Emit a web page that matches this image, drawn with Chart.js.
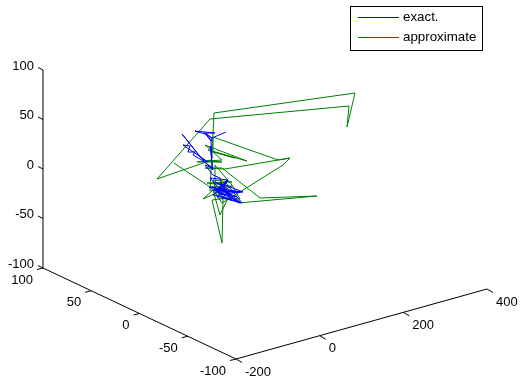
<!DOCTYPE html>
<html>
<head>
<meta charset="utf-8">
<title>exact vs approximate</title>
<script src="https://cdn.jsdelivr.net/npm/chart.js@4"></script>
<style>
  html, body { margin: 0; padding: 0; background: #fff; }
  canvas { display: block; }
</style>
</head>
<body>
<canvas id="chart" width="524" height="391"></canvas>
<script>
// tick values of the three axes
const xTicks = [-200, 0, 200, 400];
const yTicks = [-100, -50, 0, 50, 100];
const zTicks = [-100, -50, 0, 50, 100];

// the trajectories only exist as a flat projection in the picture,
// so they are read as view plane positions
const exactU = [226, 212, 208, 195, 215, 206, 211, 204, 212, 211, 212, 210, 213, 203, 182, 201, 208, 183, 190, 188, 195, 193, 200, 207, 213, 205, 213, 220, 222, 215, 225, 213, 240, 218, 238, 222, 228, 210, 225, 209, 242, 217, 240, 222, 232, 213, 227, 218, 237, 212, 230, 222, 242, 226, 215, 243, 220, 230, 224, 233];
const exactV = [132, 138, 135, 131, 133, 133, 141, 132, 139, 142, 158, 146, 170, 160, 134, 158, 162, 145, 146, 152, 152, 155, 159, 164, 168, 165, 175, 178, 185, 182, 188, 190, 192, 195, 202, 188, 180, 178, 195, 187, 192, 192, 202, 188, 200, 195, 180, 193, 197, 187, 192, 198, 203, 183, 190, 192, 183, 198, 186, 193];
const approxU = [174, 210, 232, 203, 213, 220, 228, 212, 222, 223, 220, 238, 317, 260, 222, 205, 225, 290, 283, 243, 222, 215, 215, 232, 240, 218, 213, 232, 207, 226, 210, 214, 355, 347, 349, 210, 157, 212, 197, 222, 208, 222, 205, 247, 208, 235, 213, 213, 278, 290];
const approxV = [163, 187, 186, 199, 190, 215, 198, 200, 243, 200, 187, 203, 196, 198, 168, 168, 169, 158, 165, 190, 203, 193, 165, 185, 199, 198, 180, 182, 183, 185, 191, 113, 93, 127, 106, 119, 179, 160, 162, 162, 161, 160, 145, 161, 150, 158, 152, 137, 160, 158];

const seriesNames = ['exact.', 'approximate'];
const BLUE = '#0000ff';
const GREEN = '#007f00';

// view of the 3d box
function project(x, y, z) {
  return {
    x: 236 + (x + 200) * 251 / 600 - (y + 100) * 193 / 200,
    y: 359 - (x + 200) * 70 / 600 - (y + 100) * 91 / 200 - (z + 100) * 198 / 200
  };
}

function zip(us, vs) {
  return us.map((u, i) => ({ x: u, y: vs[i] }));
}

function axisLine(points) {
  return {
    data: points,
    borderColor: '#000',
    borderWidth: 1,
    pointRadius: 0,
    showLine: true
  };
}

const axisSets = [
  axisLine([project(-200, -100, -100), project(400, -100, -100)]),
  axisLine([project(-200, -100, -100), project(-200, 100, -100)]),
  axisLine([project(-200, 100, -100), project(-200, 100, 100)])
];

// short tick marks, each one runs along a neighbouring axis direction
xTicks.forEach(t => {
  const p = project(t, -100, -100);
  axisSets.push(axisLine([p, { x: p.x + 6, y: p.y + 3.5 }]));
});
yTicks.forEach(t => {
  const p = project(-200, t, -100);
  axisSets.push(axisLine([p, { x: p.x - 6, y: p.y + 1.5 }]));
});
zTicks.forEach(t => {
  const p = project(-200, 100, t);
  axisSets.push(axisLine([p, { x: p.x - 5, y: p.y - 2.5 }]));
});

const labelsPlugin = {
  id: 'labelsPlugin',
  afterDraw(chart) {
    const c = chart.ctx;
    const sx = chart.scales.x;
    const sy = chart.scales.y;
    c.save();
    c.font = '13px "Liberation Sans", Arial, sans-serif';
    c.fillStyle = '#000';
    c.textBaseline = 'middle';

    const put = (text, p, dx, dy, align) => {
      c.textAlign = align;
      c.fillText(String(text), sx.getPixelForValue(p.x) + dx, sy.getPixelForValue(p.y) + dy);
    };
    xTicks.forEach(t => put(t, project(t, -100, -100), 9, 13, 'left'));
    yTicks.forEach(t => put(t, project(-200, t, -100), -10, 12, 'right'));
    zTicks.forEach(t => put(t, project(-200, 100, t), -9, -4, 'right'));

    // legend box top right
    c.font = '13.33px "Liberation Sans", Arial, sans-serif';
    c.strokeStyle = '#000';
    c.lineWidth = 1;
    c.fillStyle = '#fff';
    c.fillRect(350.5, 6.5, 132, 44);
    c.strokeRect(350.5, 6.5, 132, 44);
    const rows = [17.5, 37.5];
    const cols = [BLUE, GREEN];
    rows.forEach((y, i) => {
      c.strokeStyle = cols[i];
      c.beginPath();
      c.moveTo(358, y);
      c.lineTo(399, y);
      c.stroke();
      c.fillStyle = '#000';
      c.textAlign = 'left';
      c.fillText(seriesNames[i], 403, y);
    });
    c.restore();
  }
};

new Chart(document.getElementById('chart').getContext('2d'), {
  type: 'scatter',
  data: {
    datasets: [
      {
        label: seriesNames[0],
        data: zip(exactU, exactV),
        borderColor: BLUE,
        borderWidth: 1,
        pointRadius: 0,
        showLine: true
      },
      {
        label: seriesNames[1],
        data: zip(approxU, approxV),
        borderColor: GREEN,
        borderWidth: 1,
        pointRadius: 0,
        showLine: true
      },
      ...axisSets
    ]
  },
  options: {
    responsive: false,
    animation: false,
    layout: { padding: 0 },
    scales: {
      x: { type: 'linear', min: 0, max: 524, display: false },
      y: { type: 'linear', min: 0, max: 391, reverse: true, display: false }
    },
    plugins: {
      legend: { display: false },
      tooltip: { enabled: false }
    }
  },
  plugins: [labelsPlugin]
});
</script>
</body>
</html>
